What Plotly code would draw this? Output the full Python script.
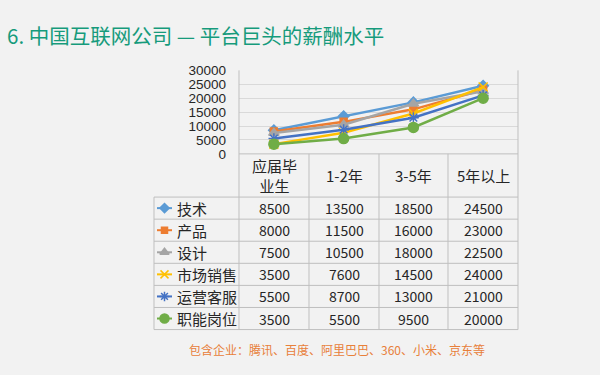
import plotly.graph_objects as go

W, H = 600, 375

title_text = "6. 中国互联网公司 — 平台巨头的薪酬水平"
footer_text = "包含企业：腾讯、百度、阿里巴巴、360、小米、京东等"

categories = ["应届毕业生", "1-2年", "3-5年", "5年以上"]
header_labels = ["应届毕<br>业生", "1-2年", "3-5年", "5年以上"]

series_names = ["技术", "产品", "设计", "市场销售", "运营客服", "职能岗位"]
v_tech = [8500, 13500, 18500, 24500]
v_product = [8000, 11500, 16000, 23000]
v_design = [7500, 10500, 18000, 22500]
v_sales = [3500, 7600, 14500, 24000]
v_ops = [5500, 8700, 13000, 21000]
v_admin = [3500, 5500, 9500, 20000]
series_values = [v_tech, v_product, v_design, v_sales, v_ops, v_admin]

colors = ["#5B9BD5", "#ED7D31", "#A5A5A5", "#FFC000", "#4472C4", "#70AD47"]
symbols = ["diamond", "square", "triangle-up", "x-thin-open", "asterisk-open", "circle"]
msizes = [8, 7, 9, 9, 9, 10]

FONT = "Noto Sans CJK SC"
TXT = "#262626"
GRID = "#bfbfbf"

# pixel layout
PL, PR, PT, PB = 239, 518, 66, 153      # plot area
TL = 154                                 # table left edge
col_edges = [239, 309, 379, 448, 518]
row_edges = [198, 221, 244, 267, 290, 313, 336]
header_mid = (PB + row_edges[0]) / 2

fig = go.Figure()

for name, vals, c, s, ms in zip(series_names, series_values, colors, symbols, msizes):
    fig.add_trace(go.Scatter(
        x=categories, y=vals, mode="lines+markers", name=name,
        line=dict(color=c, width=2.5),
        marker=dict(symbol=s, size=ms, color=c, line=dict(color=c, width=1.5)),
        xaxis="x", yaxis="y", showlegend=False, hoverinfo="skip"))

# legend keys in table rows (overlay pixel axes)
for i, (c, s, ms) in enumerate(zip(colors, symbols, msizes)):
    ym = (row_edges[i] + row_edges[i + 1]) / 2
    fig.add_trace(go.Scatter(
        x=[157, 172], y=[ym, ym], mode="lines", line=dict(color=c, width=2),
        xaxis="x2", yaxis="y2", showlegend=False, hoverinfo="skip"))
    fig.add_trace(go.Scatter(
        x=[164.5], y=[ym], mode="markers",
        marker=dict(symbol=s, size=ms - 1, color=c, line=dict(color=c, width=1.5)),
        xaxis="x2", yaxis="y2", showlegend=False, hoverinfo="skip"))

shapes = []
def hline(y, x0, x1):
    shapes.append(dict(type="line", xref="x2", yref="y2", x0=x0, x1=x1, y0=y, y1=y,
                       line=dict(color=GRID, width=1), layer="below"))
def vline(x, y0, y1):
    shapes.append(dict(type="line", xref="x2", yref="y2", x0=x, x1=x, y0=y0, y1=y1,
                       line=dict(color=GRID, width=1), layer="below"))

hline(PB, PL, PR)
for y in row_edges:
    hline(y, TL, PR)
vline(TL, row_edges[0], row_edges[-1])
vline(PL, PT, row_edges[-1])
vline(PR, PT, row_edges[-1])
for x in col_edges[1:-1]:
    vline(x, PB, row_edges[-1])

annotations = []
annotations.append(dict(text=title_text, x=5, y=29, xref="x2", yref="y2", xanchor="left",
                        yanchor="middle", showarrow=False,
                        font=dict(family=FONT, size=20.5, color="#169B7C")))
annotations.append(dict(text=footer_text, x=337, y=357, xref="x2", yref="y2", xanchor="center",
                        yanchor="middle", showarrow=False,
                        font=dict(family=FONT, size=12, color="#E8803A")))

for j, lab in enumerate(header_labels):
    xm = (col_edges[j] + col_edges[j + 1]) / 2
    annotations.append(dict(text=lab, x=xm, y=header_mid, xref="x2", yref="y2",
                            showarrow=False, font=dict(family=FONT, size=15, color=TXT)))

for i, (name, vals) in enumerate(zip(series_names, series_values)):
    ym = (row_edges[i] + row_edges[i + 1]) / 2
    annotations.append(dict(text=name, x=175, y=ym, xref="x2", yref="y2", xanchor="left",
                            showarrow=False, font=dict(family=FONT, size=15, color=TXT)))
    for j, v in enumerate(vals):
        xm = (col_edges[j] + col_edges[j + 1]) / 2
        annotations.append(dict(text=str(v), x=xm, y=ym, xref="x2", yref="y2",
                                showarrow=False, font=dict(family=FONT, size=14, color=TXT)))

fig.update_layout(
    width=W, height=H,
    margin=dict(l=0, r=0, t=0, b=0),
    paper_bgcolor="#F2F2F2", plot_bgcolor="rgba(0,0,0,0)",
    xaxis=dict(domain=[PL / W, PR / W], type="category", categoryarray=categories,
               range=[-0.5, 3.5], showticklabels=False, showgrid=False, zeroline=False,
               fixedrange=True, anchor="y"),
    yaxis=dict(domain=[1 - PB / H, 1 - PT / H], range=[0, 30000], dtick=5000,
               tickformat="d",
               gridcolor="#D9D9D9", gridwidth=1, zeroline=False, anchor="x",
               ticks="", ticklabelstandoff=12, fixedrange=True,
               tickfont=dict(family="Liberation Sans", size=13.5, color=TXT)),
    xaxis2=dict(domain=[0, 1], range=[0, W], visible=False, fixedrange=True, anchor="y2"),
    yaxis2=dict(domain=[0, 1], range=[H, 0], visible=False, fixedrange=True, anchor="x2"),
    shapes=shapes, annotations=annotations,
    showlegend=False,
)

fig.write_html("out.html", config={"displayModeBar": False, "staticPlot": True},
               post_script="document.body.style.margin='0';document.body.style.overflow='hidden';document.body.style.background='#F2F2F2';")
